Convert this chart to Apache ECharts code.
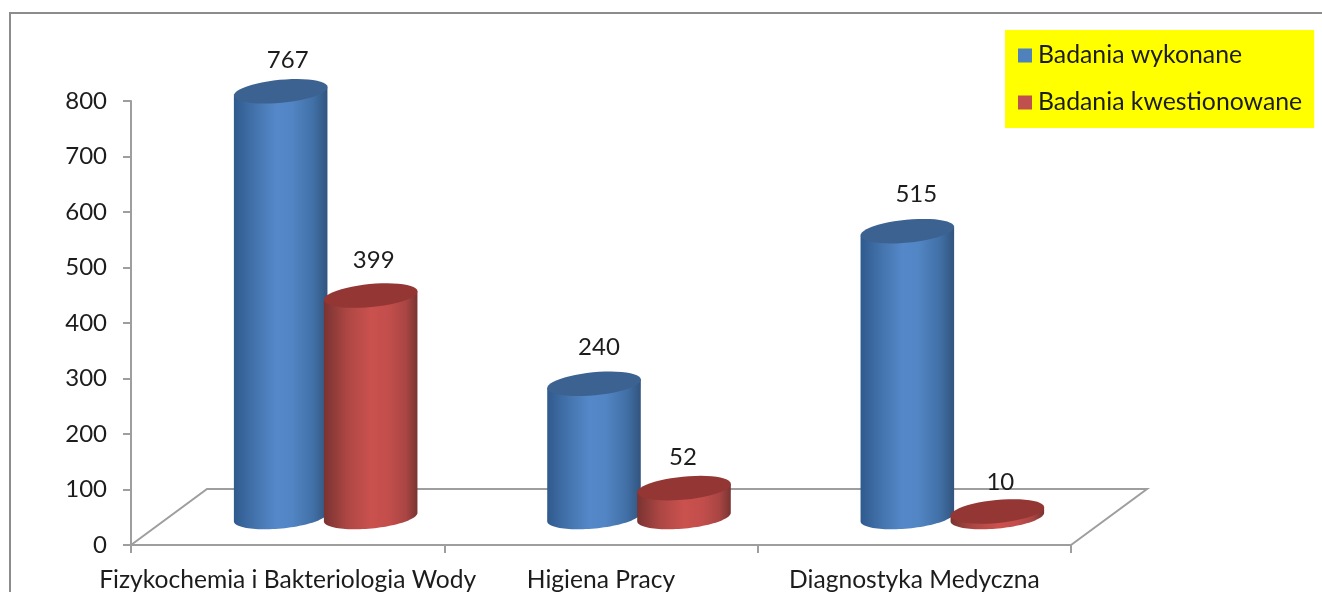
<!DOCTYPE html>
<html>
<head>
<meta charset="utf-8">
<style>
	html,body{margin:0;padding:0;background:#fff;}
	#chart{width:1322px;height:592px;}
</style>
<script src="https://cdn.jsdelivr.net/npm/echarts@6/dist/echarts.min.js"></script>
</head>
<body>
<div id="chart"></div>
<script>
var categories = ['Fizykochemia i Bakteriologia Wody', 'Higiena Pracy', 'Diagnostyka Medyczna'];
var wykonane = [767, 240, 515];
var kwestionowane = [399, 52, 10];
var yTicks = {min: 0, max: 800, interval: 100};

// layout of the fake 3d floor and cylinders, in pixels
var gridBox = {left: 131, top: 101, width: 940, height: 444, outerBoundsMode: 'none'};
var depthX = 76, depthY = 56;
var barRx = 47, barRy = 11.5, barTilt = 5.5 * Math.PI / 180;
var barShift = 45;
var labelNudgeBlue = [[7, -31], [5, -37], [9, -37]];
var labelNudgeRed = [[3, -35], [-1, -31], [3, -29]];

var fontName = 'Lato';
var textColor = '#1c1c1c';
var lineColor = '#9e9e9e';

function ellipsePoint(cx, cy, t) {
	var c = Math.cos(t), s = Math.sin(t), ca = Math.cos(barTilt), sa = Math.sin(barTilt);
	return [cx + barRx * c * ca + barRy * s * sa, cy - barRx * c * sa + barRy * s * ca];
}

function arc(cx, cy, from, to) {
	var pts = [];
	for (var i = 0; i <= 48; i++) {
		pts.push(ellipsePoint(cx, cy, from + (to - from) * i / 48));
	}
	return pts;
}

function cylinderSeries(name, values, shift, nudge, legendColor, topColor, stops) {
	return {
		name: name,
		type: 'custom',
		clip: false,
		itemStyle: {color: legendColor},
		encode: {x: 0, y: 1},
		data: values.map(function (v, i) { return [i, v]; }),
		renderItem: function (params, api) {
			var i = api.value(0), v = api.value(1);
			var top = api.coord([i, v]), base = api.coord([i, 0]);
			var cx = top[0] + depthX / 2 + shift;
			var topY = top[1] - depthY / 2, baseY = base[1] - depthY / 2;
			var body = arc(cx, baseY, 0, Math.PI);
			body.push(ellipsePoint(cx, topY, Math.PI));
			body.push(ellipsePoint(cx, topY, 0));
			return {
				type: 'group',
				children: [
					{
						type: 'polygon',
						shape: {points: body},
						style: {fill: new echarts.graphic.LinearGradient(0, 0, 1, 0, stops)}
					},
					{
						type: 'polygon',
						shape: {points: arc(cx, topY, 0, Math.PI * 2)},
						style: {fill: topColor}
					},
					{
						type: 'text',
						x: cx + nudge[i][0],
						y: topY + nudge[i][1],
						style: {text: String(v), fill: textColor, fontFamily: fontName, fontSize: 24, align: 'center', verticalAlign: 'middle'}
					}
				]
			};
		}
	};
}

var blueStops = [
	{offset: 0, color: '#2f5a8e'}, {offset: 0.25, color: '#4676b0'}, {offset: 0.45, color: '#5488c9'},
	{offset: 0.62, color: '#5285c4'}, {offset: 0.85, color: '#4170a6'}, {offset: 1, color: '#32547e'}
];
var redStops = [
	{offset: 0, color: '#7a3331'}, {offset: 0.25, color: '#ad4744'}, {offset: 0.5, color: '#ca514e'},
	{offset: 0.7, color: '#c24e4b'}, {offset: 0.88, color: '#a84543'}, {offset: 1, color: '#793432'}
];

var chart = echarts.init(document.getElementById('chart'));
chart.setOption({
	backgroundColor: '#ffffff',
	animation: false,
	grid: gridBox,
	legend: {
		left: 1005, top: 30,
		orient: 'vertical',
		icon: 'rect',
		itemWidth: 14, itemHeight: 14, itemGap: 22,
		backgroundColor: '#ffff00',
		padding: [13, 12, 13, 13],
		textStyle: {color: textColor, fontFamily: fontName, fontSize: 24.8, width: 265, padding: [0, 0, 0, 1]},
		data: ['Badania wykonane', 'Badania kwestionowane']
	},
	xAxis: {
		type: 'category',
		data: categories,
		axisLine: {lineStyle: {color: lineColor, width: 2}},
		axisTick: {show: true, length: 8, lineStyle: {color: lineColor, width: 2}},
		axisLabel: {color: textColor, fontFamily: fontName, fontSize: 24.6, margin: 23, interval: 0}
	},
	yAxis: {
		type: 'value',
		min: yTicks.min, max: yTicks.max, interval: yTicks.interval,
		splitLine: {show: false},
		axisLine: {show: true, lineStyle: {color: lineColor, width: 2}},
		axisTick: {show: true, length: 8, lineStyle: {color: lineColor, width: 2}},
		axisLabel: {color: textColor, fontFamily: fontName, fontSize: 24, margin: 24, padding: [15, 0, 0, 0]}
	},
	graphic: [
		{
			type: 'polyline', z: 0,
			shape: {points: [[10, 592], [10, 13], [1322, 13]]},
			style: {stroke: '#8c8c8c', lineWidth: 2, fill: 'none'}
		},
		{
			type: 'polyline', z: 0,
			shape: {points: [
				[gridBox.left, gridBox.top + gridBox.height],
				[gridBox.left + depthX, gridBox.top + gridBox.height - depthY],
				[gridBox.left + gridBox.width + depthX, gridBox.top + gridBox.height - depthY],
				[gridBox.left + gridBox.width, gridBox.top + gridBox.height]
			]},
			style: {stroke: lineColor, lineWidth: 2, fill: 'none'}
		}
	],
	series: [
		cylinderSeries('Badania wykonane', wykonane, -barShift, labelNudgeBlue, '#4f81bd', '#3c6291', blueStops),
		cylinderSeries('Badania kwestionowane', kwestionowane, barShift, labelNudgeRed, '#c0504d', '#943634', redStops)
	]
});
</script>
</body>
</html>
